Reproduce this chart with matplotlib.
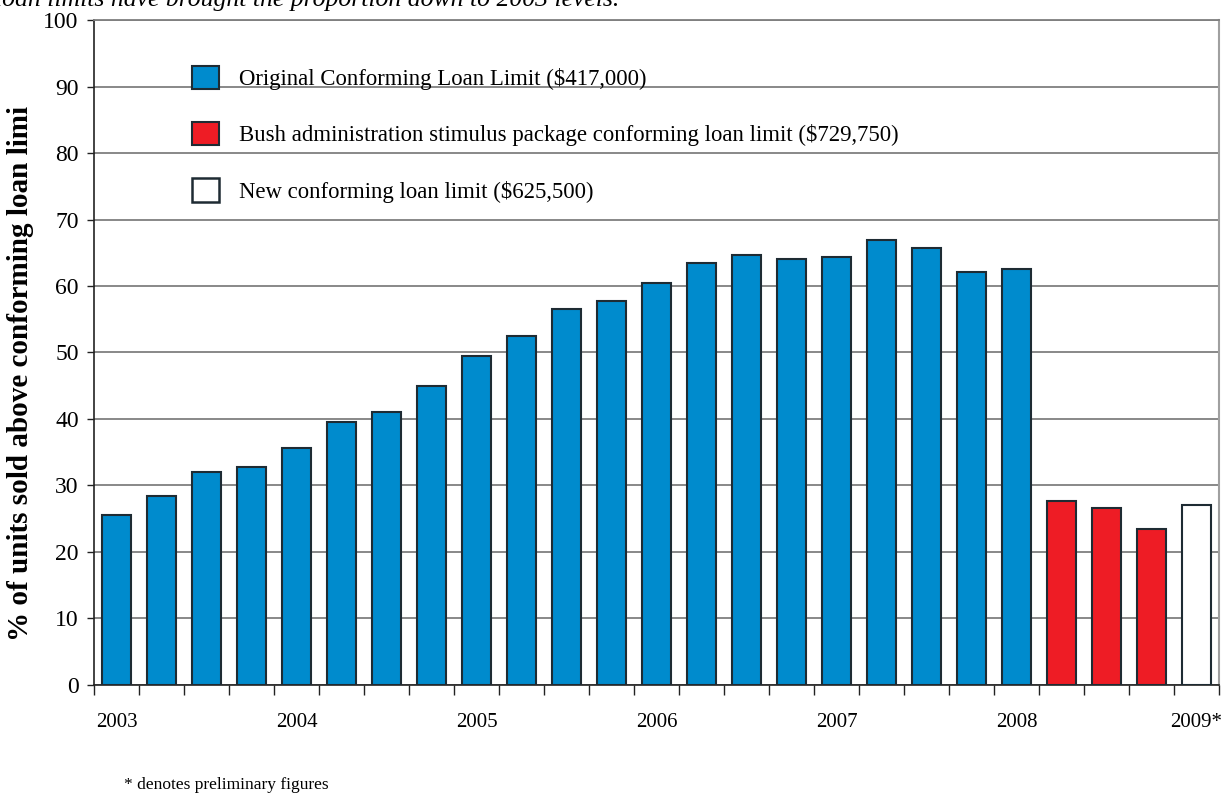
import numpy as np
import matplotlib.pyplot as plt
from matplotlib.patches import Patch

plt.rcParams['font.family'] = ['Liberation Serif', 'DejaVu Serif']

# quarterly share of units sold above the conforming loan limit (%)
original_limit = [25.6, 28.4, 32.0, 32.8, 35.7, 39.6, 41.0, 44.9,
                  49.4, 52.5, 56.6, 57.8, 60.4, 63.5, 64.6, 64.0,
                  64.3, 66.9, 65.7, 62.1, 62.6]
stimulus_limit = [27.7, 26.6, 23.5]
new_limit = [27.1]

year_labels = ['2003', '2004', '2005', '2006', '2007', '2008', '2009*']
legend_labels = ['Original Conforming Loan Limit ($417,000)',
                 'Bush administration stimulus package conforming loan limit ($729,750)',
                 'New conforming loan limit ($625,500)']

BLUE = '#008bcd'
RED = '#ee1c25'
EDGE = '#1e2b33'

values = original_limit + stimulus_limit + new_limit
colors = ([BLUE] * len(original_limit) + [RED] * len(stimulus_limit)
          + ['white'] * len(new_limit))
x = np.arange(len(values))

fig = plt.figure(figsize=(12.28, 7.94), dpi=100)
ax = fig.add_axes([0.0765, 0.1373, 0.9162, 0.8375])

ax.bar(x, values, width=0.65, color=colors, edgecolor=EDGE, linewidth=1.5, zorder=3)

ax.set_xlim(-0.5, len(values) - 0.5)
ax.set_ylim(0, 100)
ax.set_yticks(np.arange(0, 101, 10))
ax.yaxis.grid(True, color='#7f7f7f', linewidth=1.3, zorder=0)
ax.tick_params(axis='y', direction='out', length=5, width=1, color='#222222',
               labelsize=17, pad=6)

# tick marks between bars, year labels under every 4th bar
ax.set_xticks(np.arange(-0.5, len(values), 1.0), minor=True)
ax.set_xticks(x[::4])
ax.set_xticklabels(year_labels)
ax.tick_params(axis='x', which='major', length=0, labelsize=15, pad=20)
ax.tick_params(axis='x', which='minor', direction='out', length=7, width=1,
               color='#222222')

for side in ['left', 'bottom']:
    ax.spines[side].set_color('#222222')
    ax.spines[side].set_linewidth(1.2)
ax.spines['top'].set_color('#7f7f7f')
ax.spines['top'].set_linewidth(1.3)
ax.spines['right'].set_color('#a0a0a0')
ax.spines['right'].set_linewidth(1.5)

handles = [Patch(facecolor=BLUE, edgecolor=EDGE, linewidth=1.5),
           Patch(facecolor=RED, edgecolor=EDGE, linewidth=1.5),
           Patch(facecolor='white', edgecolor=EDGE, linewidth=1.8)]
ax.legend(handles, legend_labels, loc='upper left', bbox_to_anchor=(0.069, 0.962),
          frameon=False, fontsize=16.4, handlelength=1.2, handleheight=1.2,
          handletextpad=0.85, labelspacing=1.4)

fig.text(0.017, 0.529, '% of units sold above conforming loan limi', rotation=90,
         ha='center', va='center', fontsize=21, fontweight='bold')
fig.text(-0.004, 1.0, 'loan limits have brought the proportion down to 2003 levels.',
         ha='left', va='center', fontsize=18.5, style='italic')
fig.text(0.101, 0.006, '* denotes preliminary figures', ha='left', va='baseline',
         fontsize=12.5)

fig.savefig('out.png', dpi=100)
